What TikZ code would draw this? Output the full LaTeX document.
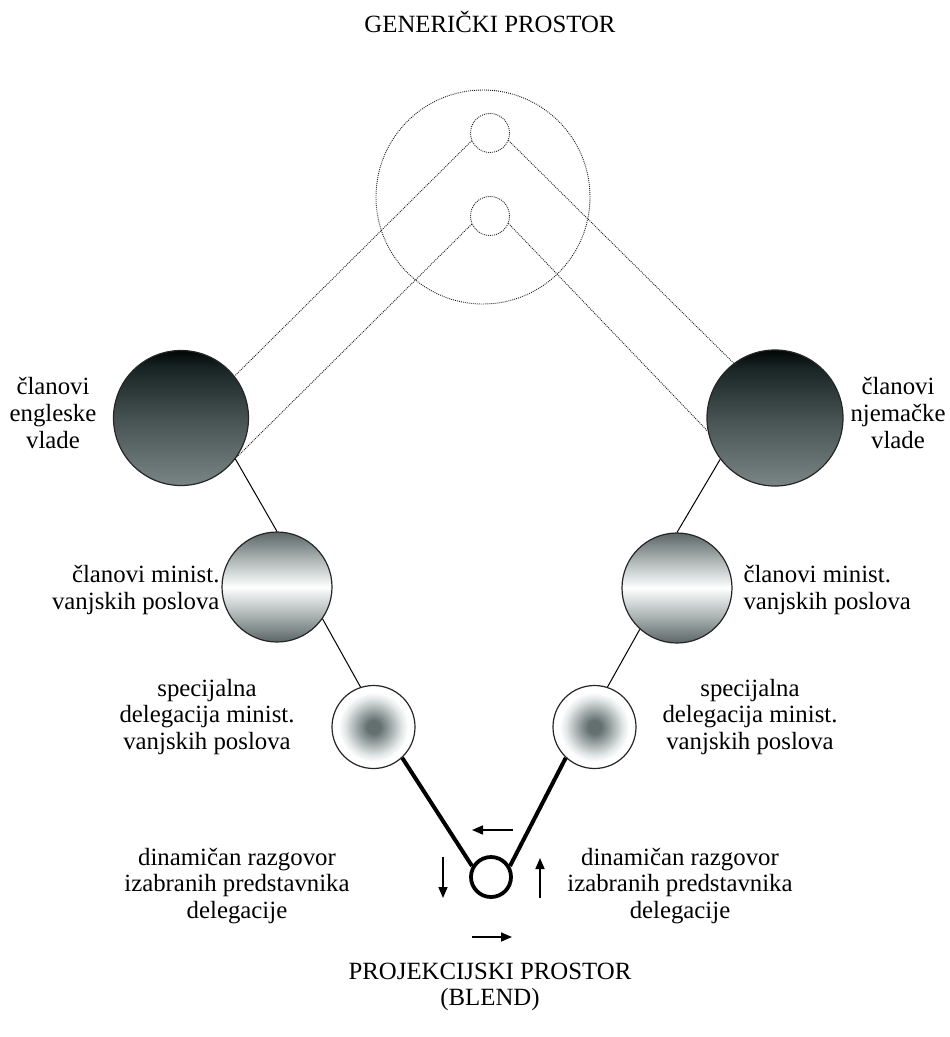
\documentclass[tikz,border=0pt]{standalone}
\usepackage{fontspec}
\setmainfont{Liberation Serif}
\usetikzlibrary{arrows.meta}

\definecolor{vltop}{RGB}{2,6,6}
\definecolor{vlhigh}{RGB}{26,38,38}
\definecolor{vlmid}{RGB}{70,82,82}
\definecolor{vlbot}{RGB}{122,133,133}
\definecolor{mnedge}{RGB}{92,102,102}
\definecolor{mnlight}{RGB}{170,178,178}
\definecolor{dgcore}{RGB}{100,112,112}
\definecolor{dglight}{RGB}{225,230,230}

\pgfdeclareverticalshading{vladaball}{100bp}{color(0bp)=(vlbot); color(25bp)=(vlbot); color(50bp)=(vlmid); color(68bp)=(vlhigh); color(75bp)=(vltop); color(100bp)=(vltop)}
\pgfdeclareverticalshading{ministball}{100bp}{color(0bp)=(mnedge); color(25bp)=(mnedge); color(37bp)=(mnlight); color(50bp)=(white); color(63bp)=(mnlight); color(75bp)=(mnedge); color(100bp)=(mnedge)}
\pgfdeclareradialshading{delegball}{\pgfpoint{0bp}{0bp}}{color(0bp)=(dgcore); color(4bp)=(dgcore); color(17bp)=(dglight); color(21bp)=(white); color(50bp)=(white)}

\begin{document}
\begin{tikzpicture}[x=1pt,y=-1pt,>={Triangle[length=11pt,width=9pt]},
    ball/.style={circle,draw=black!85,line width=1.2pt,inner sep=0pt},
    gap/.style={circle,draw=black!90,dots,inner sep=0pt},
    dots/.style={line width=0.9pt,dash pattern=on 0.9pt off 1.1pt},
    txt/.style={align=center,font=\fontsize{24.8}{26.7}\selectfont}]
\useasboundingbox (0,0) rectangle (950,1037);
\node[txt] (gentitle) at (490,22) {GENERIČKI PROSTOR};
\node[gap,minimum size=214pt] (gen) at (483,197) {};
\node[gap,minimum size=39pt] (gu) at (490,133) {};
\node[gap,minimum size=39pt] (gl) at (490,216) {};
\node[ball,shading=vladaball,minimum size=135pt] (engl) at (181,418) {};
\node[ball,shading=vladaball,minimum size=136pt] (njem) at (775,418) {};
\node[ball,shading=ministball,minimum size=110pt] (minL) at (277,587) {};
\node[ball,shading=ministball,minimum size=110pt] (minR) at (677,588) {};
\node[ball,shading=delegball,minimum size=83pt] (delL) at (373.5,727) {};
\node[ball,shading=delegball,minimum size=83pt] (delR) at (594.5,727) {};
\node[circle,draw,line width=3.8pt,inner sep=0pt,minimum size=40pt] (blend) at (491,877) {};
\draw[dots,black!90] (gu.203) -- (engl.38);
\draw[dots,black!90] (gl.204) -- (engl.-35);
\draw[dots,black!90] (gu.338) -- (njem.127);
\draw[dots,black!90] (gl.338) -- (njem.191);
\draw[line width=1pt] (engl.-37) -- (minL.90);
\draw[line width=1pt] (minL.-35) -- (delL.108);
\draw[line width=1pt] (njem.217) -- (minR.90);
\draw[line width=1pt] (minR.228) -- (delR.72);
\draw[line width=4pt] (delL.-47) -- (blend.150);
\draw[line width=4pt] (delR.227) -- (blend.30);
\coordinate (topR) at (513,830); \coordinate (topL) at (472,830);
\coordinate (leftT) at (443,857); \coordinate (leftB) at (443,898);
\coordinate (rightB) at (540,898); \coordinate (rightT) at (540,858);
\coordinate (botL) at (472,937); \coordinate (botR) at (512,937);
\draw[->,line width=1.6pt] (topR) -- (topL);
\draw[->,line width=1.6pt] (leftT) -- (leftB);
\draw[->,line width=1.6pt] (rightB) -- (rightT);
\draw[->,line width=1.6pt] (botL) -- (botR);
\node[txt] (engltext) at (53,413) {članovi\\engleske\\vlade};
\node[txt] (njemtext) at (898,413) {članovi\\njemačke\\vlade};
\node[txt,align=right,anchor=east] (minLtext) at (223,590) {članovi minist.\\vanjskih poslova};
\node[txt,align=left,anchor=west] (minRtext) at (740,590) {članovi minist.\\vanjskih poslova};
\node[txt] (delLtext) at (207,717) {specijalna\\delegacija minist.\\vanjskih poslova};
\node[txt] (delRtext) at (750,717) {specijalna\\delegacija minist.\\vanjskih poslova};
\node[txt] (razgL) at (237,886) {dinamičan razgovor\\izabranih predstavnika\\delegacije};
\node[txt] (razgR) at (680,886) {dinamičan razgovor\\izabranih predstavnika\\delegacije};
\node[txt] (blendtext) at (490,987) {PROJEKCIJSKI PROSTOR\\(BLEND)};
\end{tikzpicture}
\end{document}
